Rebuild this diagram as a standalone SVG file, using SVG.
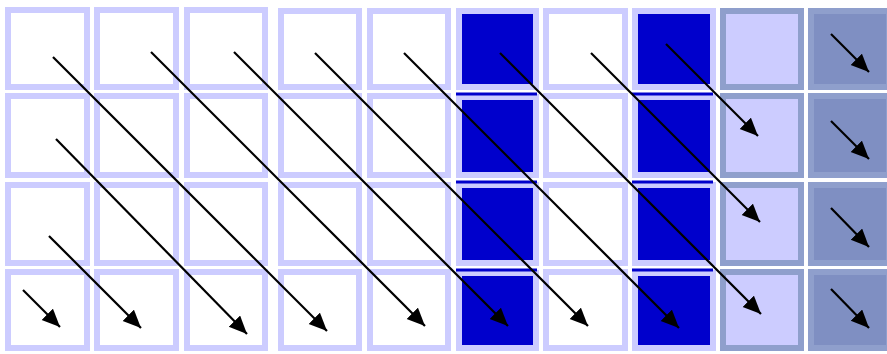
<svg xmlns="http://www.w3.org/2000/svg" width="887" height="354" viewBox="0 0 887 354">
<defs>
<style>
.w{fill:#ffffff;stroke:#ccccff;stroke-width:6}
.b{fill:#0000cc;stroke:#ccccff;stroke-width:6}
.l{fill:#ccccff;stroke:#8f9fcc;stroke-width:6}
.d{fill:#7f8fc2;stroke:#8f9fcc;stroke-width:6}
.bar{fill:#0000cc}
.a{stroke:#000000;stroke-width:2.2;fill:none;marker-end:url(#ah)}
</style>
<marker id="ah" markerUnits="userSpaceOnUse" markerWidth="20" markerHeight="18" refX="18" refY="8" orient="auto">
<path d="M0,0 L18,8 L0,16 z" fill="#000000"/>
</marker>
</defs>
<rect width="887" height="354" fill="#ffffff"/>
<g id="c0">
<rect id="c0r0" class="w" x="8" y="10" width="79" height="77"/>
<rect id="c0r1" class="w" x="8" y="96" width="79" height="79"/>
<rect id="c0r2" class="w" x="8" y="185" width="79" height="78"/>
<rect id="c0r3" class="w" x="8" y="272" width="79" height="76"/>
</g>
<g id="c1">
<rect id="c1r0" class="w" x="97" y="10" width="79" height="77"/>
<rect id="c1r1" class="w" x="97" y="96" width="79" height="79"/>
<rect id="c1r2" class="w" x="97" y="185" width="79" height="78"/>
<rect id="c1r3" class="w" x="97" y="272" width="79" height="76"/>
</g>
<g id="c2">
<rect id="c2r0" class="w" x="187" y="10" width="78" height="77"/>
<rect id="c2r1" class="w" x="187" y="96" width="78" height="79"/>
<rect id="c2r2" class="w" x="187" y="185" width="78" height="78"/>
<rect id="c2r3" class="w" x="187" y="272" width="78" height="76"/>
</g>
<g id="c3">
<rect id="c3r0" class="w" x="281" y="11" width="78" height="76"/>
<rect id="c3r1" class="w" x="281" y="96" width="78" height="79"/>
<rect id="c3r2" class="w" x="281" y="185" width="78" height="78"/>
<rect id="c3r3" class="w" x="281" y="272" width="78" height="76"/>
</g>
<g id="c4">
<rect id="c4r0" class="w" x="370" y="11" width="78" height="76"/>
<rect id="c4r1" class="w" x="370" y="96" width="78" height="79"/>
<rect id="c4r2" class="w" x="370" y="185" width="78" height="78"/>
<rect id="c4r3" class="w" x="370" y="272" width="78" height="76"/>
</g>
<g id="c5">
<rect id="c5r0" class="b" x="459" y="11" width="77" height="76"/>
<rect id="c5r1" class="b" x="459" y="97" width="77" height="78"/>
<rect id="c5r2" class="b" x="459" y="185" width="77" height="78"/>
<rect id="c5r3" class="b" x="459" y="273" width="77" height="75"/>
<rect class="bar" x="456" y="92.5" width="81" height="3"/>
<rect class="bar" x="456" y="180.5" width="81" height="3"/>
<rect class="bar" x="456" y="268.5" width="81" height="3"/>
</g>
<g id="c6">
<rect id="c6r0" class="w" x="546" y="11" width="79" height="76"/>
<rect id="c6r1" class="w" x="546" y="96" width="79" height="79"/>
<rect id="c6r2" class="w" x="546" y="185" width="79" height="78"/>
<rect id="c6r3" class="w" x="546" y="272" width="79" height="76"/>
</g>
<g id="c7">
<rect id="c7r0" class="b" x="635" y="11" width="78" height="76"/>
<rect id="c7r1" class="b" x="635" y="97" width="78" height="78"/>
<rect id="c7r2" class="b" x="635" y="185" width="78" height="78"/>
<rect id="c7r3" class="b" x="635" y="273" width="78" height="75"/>
<rect class="bar" x="632" y="92.5" width="81" height="3"/>
<rect class="bar" x="632" y="180.5" width="81" height="3"/>
<rect class="bar" x="632" y="268.5" width="81" height="3"/>
</g>
<g id="c8">
<rect id="c8r0" class="l" x="723" y="11" width="78" height="76"/>
<rect id="c8r1" class="l" x="723" y="96" width="78" height="79"/>
<rect id="c8r2" class="l" x="723" y="185" width="78" height="78"/>
<rect id="c8r3" class="l" x="723" y="272" width="78" height="76"/>
</g>
<g id="c9">
<rect id="c9r0" class="d" x="811" y="11" width="78" height="76"/>
<rect id="c9r1" class="d" x="811" y="96" width="78" height="79"/>
<rect id="c9r2" class="d" x="811" y="185" width="78" height="78"/>
<rect id="c9r3" class="d" x="811" y="272" width="78" height="76"/>
</g>
<g id="connectors">
<line class="a" x1="53" y1="57" x2="327" y2="331"/>
<line class="a" x1="56" y1="139" x2="247" y2="334"/>
<line class="a" x1="49" y1="236" x2="141" y2="328"/>
<line class="a" x1="23" y1="290" x2="60" y2="327"/>
<line class="a" x1="151" y1="52" x2="425" y2="326"/>
<line class="a" x1="234" y1="52" x2="508" y2="326"/>
<line class="a" x1="315" y1="53" x2="588" y2="326"/>
<line class="a" x1="404" y1="53" x2="679" y2="328"/>
<line class="a" x1="500" y1="53" x2="761" y2="314"/>
<line class="a" x1="591" y1="53" x2="760" y2="222"/>
<line class="a" x1="666" y1="44" x2="758" y2="136"/>
<line class="a" x1="831" y1="34" x2="869" y2="72"/>
<line class="a" x1="831" y1="121" x2="869" y2="159"/>
<line class="a" x1="831" y1="208" x2="869" y2="247"/>
<line class="a" x1="831" y1="289" x2="869" y2="328"/>
</g>
</svg>
